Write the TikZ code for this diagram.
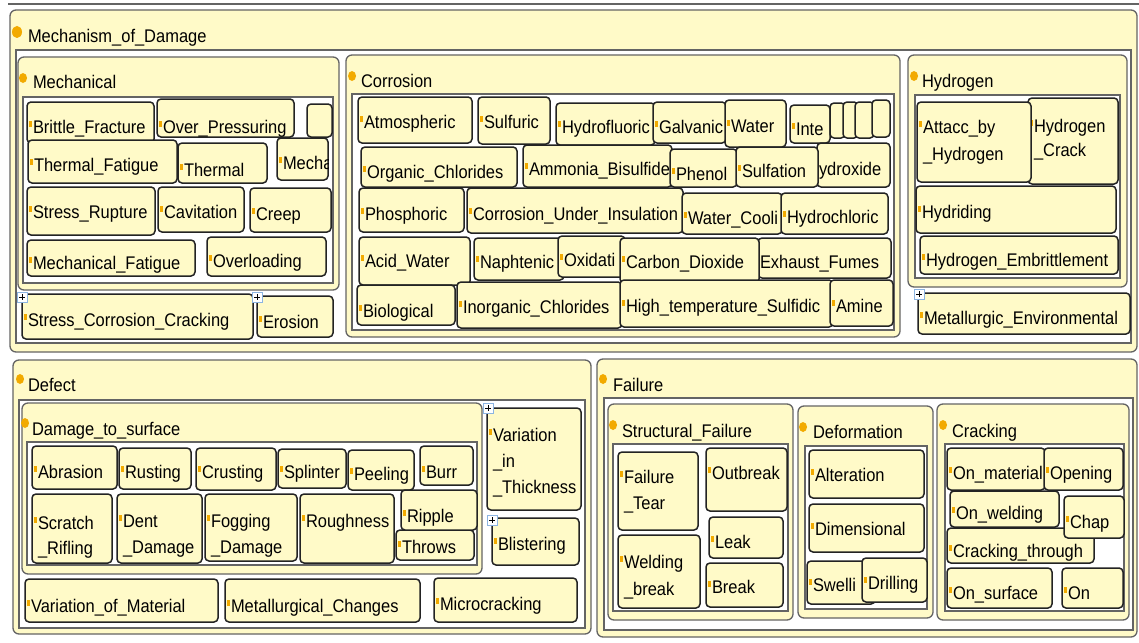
\documentclass[tikz,border=0pt]{standalone}
\usepackage{fontspec}
\setmainfont{Liberation Sans}[FakeStretch=0.9]
\definecolor{yel}{RGB}{255,250,200}
\definecolor{org}{RGB}{242,170,0}
\definecolor{dk}{RGB}{35,35,35}
\definecolor{gr}{RGB}{100,100,100}
\definecolor{pl}{RGB}{140,180,225}
\tikzset{
 cont/.style={fill=yel, draw=gr, line width=1.3pt, rounded corners=6pt},
 panel/.style={fill=white, draw=gr, line width=1.3pt},
 itm/.style={fill=yel, draw=dk, line width=1.5pt, rounded corners=4pt},
 itxt/.style={anchor=base west, inner sep=0pt, outer sep=0pt, font=\fontsize{18.3}{20}\selectfont, text=black},
 dotm/.style={fill=org},
 mk/.style={fill=org},
}
\newcommand\itm[7]{%
 \path[itm] (#2,#3) rectangle (#4,#5);
 \begin{scope}\clip (#2,#3) rectangle (#4,#5);
 \node[itxt] (#1) at ({#2+6},#6) {#7};
 \end{scope}
 \fill[mk] ({#2+2},{#6-12}) rectangle ({#2+4.5},{#6-6});}
\newcommand\itmx[7]{%
 \path[itm] (#2,#3) rectangle (#4,#5);
 \begin{scope}\clip (#2,#3) rectangle (#4,#5);
 \node[itxt] (#1) at ({#2+2},#6) {#7};
 \end{scope}}
\newcommand\itmii[9]{%
 \path[itm] (#2,#3) rectangle (#4,#5);
 \node[itxt] (#1) at ({#2+6},#6) {#8};
 \node[itxt] (#1-b) at ({#2+6},#7) {#9};
 \fill[mk] ({#2+2},{#6-12}) rectangle ({#2+4.5},{#6-6});}
\newcommand\emp[4]{\path[itm] (#1,#2) rectangle (#3,#4);}
\newcommand\hdr[6]{%
 \fill[dotm] (#2,#3) ellipse [x radius=4pt, y radius=5pt];
 \node[itxt] (#1) at (#4,#5) {#6};}
\newcommand\plusm[2]{%
 \path[fill=white, draw=pl, line width=1pt] ({#1-5},{#2-5}) rectangle ({#1+5},{#2+5});
 \draw[line width=0.9pt] ({#1-3},#2) -- ({#1+3},#2) (#1,{#2-3}) -- (#1,{#2+3});}
\begin{document}
\begin{tikzpicture}[x=1pt,y=-1pt]
\useasboundingbox[fill=white] (0,0) rectangle (1139,642);
\draw[gr, line width=2.5pt] (8,4) -- (1139,4);
% ===== Mechanism_of_Damage =====
\path[cont] (10,10) rectangle (1137,352);
\fill[dotm] (17,32) ellipse [x radius=5pt, y radius=6pt];
\node[itxt] (mod) at (28,43) {Mechanism\_of\_Damage};
\path[panel] (16,50) rectangle (1131,343);
% Mechanical
\path[cont] (18,57) rectangle (339,290);
\hdr{mech}{23}{78}{33}{88}{Mechanical}
\path[panel] (23,97) rectangle (333,283);
\itm{bf}{27}{102}{154}{143}{133}{Brittle\_Fracture}
\itm{op}{157}{99}{294}{137}{133}{Over\_Pressuring}
\emp{307}{104}{332}{137}
\itm{tf}{28}{140}{177}{183}{171}{Thermal\_Fatigue}
\itm{th}{178}{143}{267}{183}{176}{Thermal}
\itm{me}{277}{138}{328}{180}{169}{Mecha}
\itm{sr}{27}{187}{155}{235}{218}{Stress\_Rupture}
\itm{cv}{158}{187}{244}{232}{218}{Cavitation}
\itm{cr}{250}{188}{331}{232}{220}{Creep}
\itm{mf}{27}{240}{195}{276}{269}{Mechanical\_Fatigue}
\itm{ol}{207}{237}{326}{276}{267}{Overloading}
\itm{scc}{22}{294}{253}{339}{326}{Stress\_Corrosion\_Cracking}
\itm{er}{257}{296}{333}{337}{328}{Erosion}
\plusm{22}{297}
\plusm{257}{297}
% Corrosion
\path[cont] (346,55) rectangle (900,337);
\hdr{corr}{352}{76}{361}{87}{Corrosion}
\path[panel] (352,94) rectangle (894,330);
\itm{atm}{358}{97}{472}{143}{128}{Atmospheric}
\itm{sul}{478}{97}{550}{144}{128}{Sulfuric}
\itm{hf}{556}{103}{655}{145}{133}{Hydrofluoric}
\itm{gal}{653}{102}{726}{143}{133}{Galvanic}
\itm{wat}{725}{100}{786}{147}{132}{Water}
\itm{inte}{790}{105}{830}{143}{135}{Inte}
\emp{830}{103}{845}{138}
\emp{843}{102}{858}{138}
\emp{855}{102}{874}{138}
\emp{872}{100}{890}{137}
\itm{oc}{361}{147}{517}{187}{178}{Organic\_Chlorides}
\itm{ab}{523}{145}{672}{187}{175}{Ammonia\_Bisulfide}
\itmx{ydx}{817}{143}{890}{187}{175}{ydroxide}
\itm{ph}{670}{149}{737}{187}{180}{Phenol}
\itm{sf}{736}{147}{818}{187}{177}{Sulfation}
\itm{po}{359}{188}{464}{232}{220}{Phosphoric}
\itm{cui}{467}{188}{683}{233}{220}{Corrosion\_Under\_Insulation}
\itm{wc}{682}{193}{782}{234}{224}{Water\_Cooli}
\itm{hc}{781}{193}{888}{234}{223}{Hydrochloric}
\itm{aw}{359}{237}{470}{285}{267}{Acid\_Water}
\itm{na}{474}{238}{564}{280}{268}{Naphtenic}
\itm{ox}{558}{236}{625}{277}{266}{Oxidati}
\itmx{ef}{758}{238}{891}{278}{268}{Exhaust\_Fumes}
\itm{cd}{620}{238}{759}{283}{268}{Carbon\_Dioxide}
\itm{bio}{357}{285}{455}{325}{317}{Biological}
\itm{ic}{457}{282}{622}{328}{313}{Inorganic\_Chlorides}
\itm{hts}{620}{280}{833}{327}{312}{High\_temperature\_Sulfidic}
\itm{am}{830}{280}{893}{326}{312}{Amine}
% Hydrogen
\path[cont] (908,55) rectangle (1127,287);
\hdr{hydr}{914}{76}{922}{87}{Hydrogen}
\path[panel] (915,95) rectangle (1120,278);
\itmii{hcr}{1028}{98}{1118}{184}{132}{156}{Hydrogen}{\_Crack}
\itmii{att}{917}{102}{1031}{182}{133}{160}{Attacc\_by}{\_Hydrogen}
\itm{hyd}{916}{186}{1116}{233}{218}{Hydriding}
\itm{he}{920}{236}{1118}{274}{266}{Hydrogen\_Embrittlement}
\itm{menv}{918}{293}{1130}{334}{324}{Metallurgic\_Environmental}
\plusm{919}{294}
% ===== Defect =====
\path[cont] (13,360) rectangle (591,634);
\hdr{def}{20}{379}{28}{391}{Defect}
\path[panel] (19,400) rectangle (585,628);
\path[cont] (22,403) rectangle (482,574);
\hdr{dts}{25}{423}{32}{435}{Damage\_to\_surface}
\path[panel] (27,442) rectangle (477,565);
\itm{abr}{32}{446}{117}{489}{478}{Abrasion}
\itm{rus}{119}{448}{191}{489}{478}{Rusting}
\itm{cru}{196}{448}{276}{490}{478}{Crusting}
\itm{spl}{278}{449}{346}{488}{478}{Splinter}
\itm{pee}{348}{450}{414}{490}{480}{Peeling}
\itm{bur}{420}{446}{473}{485}{478}{Burr}
\itmii{scr}{32}{494}{112}{563}{529}{554}{Scratch}{\_Rifling}
\itmii{den}{117}{494}{202}{563}{527}{553}{Dent}{\_Damage}
\itmii{fog}{205}{494}{297}{561}{527}{553}{Fogging}{\_Damage}
\itm{rou}{300}{494}{394}{563}{527}{Roughness}
\itm{thr}{396}{530}{474}{560}{553}{Throws}
\itm{rip}{401}{490}{477}{530}{522}{Ripple}
\path[itm] (487,408) rectangle (581,510);
\node[itxt] (vit) at (493,441) {Variation};
\node[itxt] (vit-b) at (493,467) {\_in};
\node[itxt] (vit-c) at (493,493) {\_Thickness};
\fill[mk] (489,429) rectangle (491.5,435);
\itm{bli}{492}{518}{579}{565}{550}{Blistering}
\plusm{488}{408}
\plusm{492}{520}
\itm{vom}{25}{579}{218}{622}{612}{Variation\_of\_Material}
\itm{mc}{225}{579}{420}{622}{612}{Metallurgical\_Changes}
\itm{mic}{434}{578}{577}{622}{610}{Microcracking}
% ===== Failure =====
\path[cont] (597,359) rectangle (1137,637);
\hdr{fail}{603}{379}{613}{391}{Failure}
\path[panel] (604,398) rectangle (1133,630);
% Structural_Failure
\path[cont] (608,404) rectangle (793,620);
\hdr{sf2}{613}{425}{622}{437}{Structural\_Failure}
\path[panel] (613,444) rectangle (788,611);
\itmii{ft}{618}{452}{698}{530}{483}{509}{Failure}{\_Tear}
\itm{ob}{706}{448}{787}{511}{479}{Outbreak}
\itm{lk}{709}{517}{783}{558}{548}{Leak}
\itmii{wb}{618}{535}{700}{608}{568}{595}{Welding}{\_break}
\itm{bk}{706}{563}{783}{607}{593}{Break}
% Deformation
\path[cont] (798,406) rectangle (933,618);
\hdr{dfm}{803}{427}{813}{438}{Deformation}
\path[panel] (805,446) rectangle (927,609);
\itm{alt}{809}{450}{924}{498}{481}{Alteration}
\itm{dim}{809}{504}{924}{552}{535}{Dimensional}
\itm{sw}{807}{561}{875}{604}{591}{Swelli}
\itm{dr}{862}{558}{927}{602}{589}{Drilling}
% Cracking
\path[cont] (937,404) rectangle (1129,620);
\hdr{crk}{943}{425}{952}{437}{Cracking}
\path[panel] (945,444) rectangle (1124,611);
\itm{onm}{947}{448}{1045}{490}{479}{On\_material}
\itm{opn}{1044}{448}{1123}{490}{479}{Opening}
\itm{onw}{950}{491}{1059}{527}{519}{On\_welding}
\itm{ct}{947}{528}{1094}{563}{557}{Cracking\_through}
\itm{chp}{1064}{496}{1124}{538}{528}{Chap}
\itm{ons}{947}{568}{1052}{608}{599}{On\_surface}
\itm{on}{1062}{568}{1123}{608}{599}{On}
\end{tikzpicture}
\end{document}
